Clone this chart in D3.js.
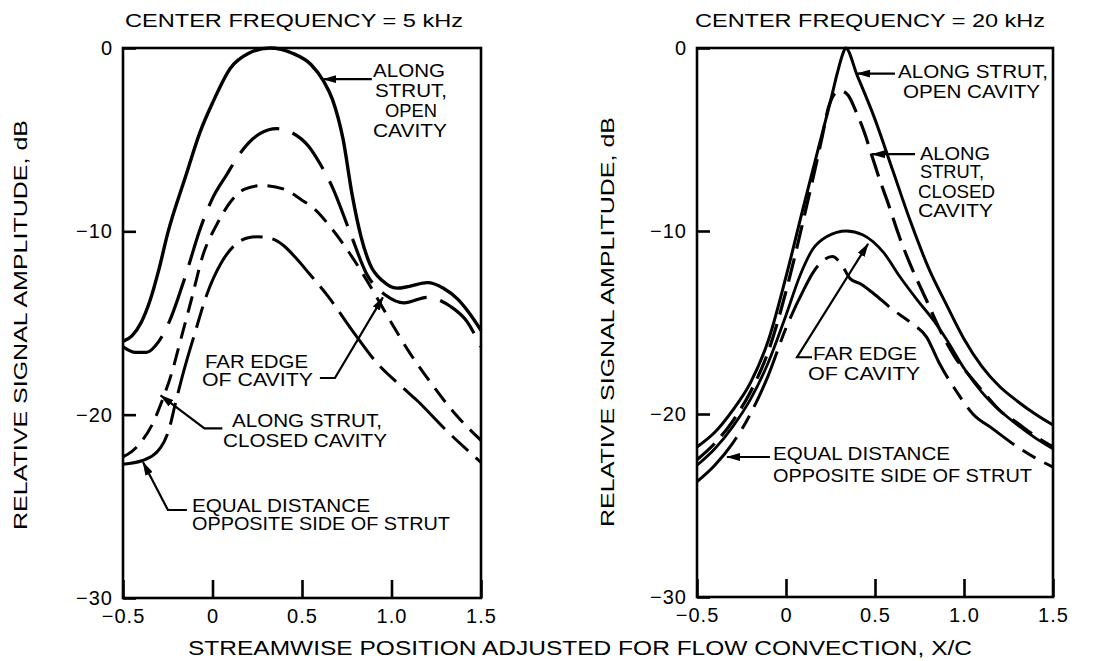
<!DOCTYPE html>
<html><head><meta charset="utf-8">
<script src="https://cdn.jsdelivr.net/npm/d3@7"></script>
<style>
html,body{margin:0;padding:0;background:#fff;}
svg{display:block;font-family:"Liberation Sans",Arial,Helvetica,sans-serif;}
</style></head><body>
<svg id="chart" width="1109" height="661"></svg>
<script>
// ---------- data ----------
const xTickValues = [-0.5, 0, 0.5, 1.0, 1.5];
const xTickLabels = ["\u22120.5", "0", "0.5", "1.0", "1.5"];
const yTickValues = [0, -10, -20, -30];
const yTickLabels = ["0", "\u221210", "\u221220", "\u221230"];
const panelTitles = ["CENTER FREQUENCY = 5 kHz", "CENTER FREQUENCY = 20 kHz"];
const yTitle = "RELATIVE SIGNAL AMPLITUDE, dB";
const xTitle = "STREAMWISE POSITION ADJUSTED FOR FLOW CONVECTION, X/C";

// 5 kHz panel: [X/C, dB]
const f5OpenCavity = [[-0.5,-16.0],[-0.45,-15.7],[-0.4,-15.0],[-0.35,-13.8],[-0.3,-12.1],[-0.25,-10.1],[-0.15,-7.0],[-0.07,-4.6],[0,-3.0],[0.1,-1.1],[0.2,-0.3],[0.32,0],[0.45,-0.3],[0.55,-0.9],[0.62,-1.8],[0.67,-2.8],[0.73,-5.0],[0.78,-8.0],[0.83,-10.3],[0.88,-11.8],[0.95,-12.7],[1.03,-13.1],[1.1,-13.0],[1.2,-12.8],[1.29,-13.1],[1.37,-13.7],[1.43,-14.4],[1.5,-15.4]];
const f5FarEdge = [[-0.5,-16.3],[-0.43,-16.6],[-0.37,-16.6],[-0.3,-16.0],[-0.24,-14.9],[-0.15,-12.4],[-0.07,-9.9],[0,-8.2],[0.08,-6.9],[0.15,-5.8],[0.26,-4.7],[0.36,-4.4],[0.44,-4.6],[0.54,-5.4],[0.6,-6.3],[0.67,-7.6],[0.77,-10.1],[0.86,-12.3],[0.97,-13.5],[1.07,-13.9],[1.2,-13.6],[1.33,-14.1],[1.42,-14.9],[1.5,-16.3]];
const f5ClosedCavity = [[-0.5,-22.3],[-0.45,-22.0],[-0.4,-21.5],[-0.34,-20.6],[-0.28,-19.2],[-0.23,-17.8],[-0.18,-16.0],[-0.12,-13.8],[-0.05,-11.2],[0.02,-9.7],[0.1,-8.4],[0.18,-7.7],[0.28,-7.5],[0.4,-7.7],[0.5,-8.3],[0.56,-8.7],[0.67,-9.9],[0.8,-11.7],[0.9,-13.3],[1.0,-15.0],[1.1,-16.6],[1.23,-18.4],[1.35,-19.9],[1.5,-21.4]];
const f5EqualDistance = [[-0.5,-22.7],[-0.39,-22.5],[-0.29,-21.8],[-0.24,-20.7],[-0.21,-19.5],[-0.16,-17.6],[-0.1,-15.6],[-0.03,-13.4],[0.05,-11.7],[0.13,-10.7],[0.2,-10.35],[0.25,-10.3],[0.33,-10.4],[0.4,-10.8],[0.47,-11.5],[0.54,-12.3],[0.65,-13.6],[0.78,-15.4],[0.92,-17.2],[1.06,-18.5],[1.14,-19.2],[1.3,-20.8],[1.5,-22.6]];

// 20 kHz panel: [X/C, dB]
const f20OpenCavity = [[-0.5,-21.8],[-0.4,-21.0],[-0.3,-19.8],[-0.2,-18.3],[-0.1,-16.0],[0,-12.5],[0.1,-8.6],[0.2,-4.8],[0.25,-2.9],[0.29,-1.3],[0.32,-0.3],[0.335,0],[0.4,-1.5],[0.5,-3.9],[0.6,-6.7],[0.7,-9.5],[0.8,-12.0],[0.9,-14.0],[1.0,-15.9],[1.1,-17.4],[1.2,-18.5],[1.3,-19.3],[1.4,-20.0],[1.5,-20.6]];
const f20ClosedCavity = [[-0.5,-22.5],[-0.4,-21.6],[-0.3,-20.4],[-0.2,-18.8],[-0.1,-16.6],[0,-13.3],[0.1,-9.3],[0.2,-5.0],[0.24,-3.2],[0.28,-2.45],[0.31,-2.35],[0.35,-2.6],[0.39,-3.4],[0.44,-4.6],[0.483,-5.9],[0.53,-7.3],[0.567,-8.3],[0.64,-10.4],[0.71,-12.1],[0.79,-13.8],[0.88,-15.7],[0.95,-16.9],[1.03,-17.9],[1.1,-18.7],[1.2,-19.8],[1.3,-20.5],[1.4,-21.2],[1.5,-21.8]];
const f20FarEdge = [[-0.5,-22.8],[-0.4,-21.9],[-0.3,-20.7],[-0.2,-19.2],[-0.1,-17.2],[0,-14.6],[0.08,-12.4],[0.15,-11.0],[0.23,-10.3],[0.34,-10.0],[0.43,-10.2],[0.55,-11.2],[0.64,-12.5],[0.74,-13.8],[0.83,-14.9],[0.9,-15.9],[1.0,-17.5],[1.1,-18.8],[1.2,-19.8],[1.3,-20.6],[1.4,-21.3],[1.5,-21.9]];
const f20EqualDistance = [[-0.5,-23.7],[-0.4,-22.8],[-0.3,-21.6],[-0.2,-20.0],[-0.1,-17.9],[0,-15.3],[0.1,-13.2],[0.15,-12.3],[0.21,-11.6],[0.26,-11.4],[0.31,-11.8],[0.36,-12.6],[0.42,-12.9],[0.49,-13.4],[0.6,-14.3],[0.7,-15.0],[0.79,-15.8],[0.86,-17.2],[0.96,-18.8],[1.05,-20.0],[1.16,-20.8],[1.3,-21.8],[1.4,-22.4],[1.5,-22.9]];

// annotation leader lines, in data units [X/C, dB]
const f5Leaders = [
  [[0.89,-1.7],[0.62,-1.7]],
  [[0.60,-18.0],[0.684,-18.0],[0.952,-13.6]],
  [[0.055,-20.75],[-0.045,-20.75],[-0.29,-18.95]],
  [[-0.143,-25.2],[-0.249,-25.2],[-0.388,-22.6]]
];
const f20Leaders = [
  [[0.612,-1.4],[0.40,-1.4]],
  [[0.725,-5.8],[0.483,-5.8]],
  [[0.146,-16.9],[0.062,-16.9],[0.461,-10.7]],
  [[-0.09,-22.35],[-0.331,-22.35]]
];

// annotation texts: [text, x start, baseline, width]
const f5Notes = [
  ["ALONG",373,77,72],["STRUT,",375,97,72],["OPEN",385,117,52],["CAVITY",373,137,74],
  ["FAR EDGE",205,368,103],["OF CAVITY",202,386,111],
  ["ALONG STRUT,",232,427,150],["CLOSED CAVITY",223,447,164],
  ["EQUAL DISTANCE",192,512,178],["OPPOSITE SIDE OF STRUT",192,530,258]
];
const f20Notes = [
  ["ALONG STRUT,",898,78,150],["OPEN CAVITY",903,98,137],
  ["ALONG",920,160,70],["STRUT,",920,178,64],["CLOSED",918,198,77],["CAVITY",918,217,75],
  ["FAR EDGE",813,360,104],["OF CAVITY",808,380,112],
  ["EQUAL DISTANCE",773,460,177],["OPPOSITE SIDE OF STRUT",773,482,259]
];

// ---------- layout ----------
const panels = [
  {left:123, right:481, top:48, bottom:598, titleX:294, titleW:338, yTitleX:20, yTitleY:325,
   series:[
     {data:f5OpenCavity, width:3.4, dash:null},
     {data:f5FarEdge, width:3.2, dash:"48,14"},
     {data:f5ClosedCavity, width:3.0, dash:"17,10"},
     {data:f5EqualDistance, width:3.0, dash:"58,10,22,10"}
   ], leaders:f5Leaders, notes:f5Notes},
  {left:697, right:1053, top:48, bottom:597, titleX:870, titleW:350, yTitleX:607, yTitleY:322,
   series:[
     {data:f20OpenCavity, width:3.0, dash:null},
     {data:f20ClosedCavity, width:3.2, dash:"24,10"},
     {data:f20FarEdge, width:2.8, dash:null},
     {data:f20EqualDistance, width:3.0, dash:"60,10,15,10"}
   ], leaders:f20Leaders, notes:f20Notes}
];

const svg = d3.select("#chart");
svg.append("rect").attr("width",1109).attr("height",661).attr("fill","#fff");
const defs = svg.append("defs");
defs.append("marker").attr("id","ah").attr("viewBox","0 0 14 8")
  .attr("refX",13).attr("refY",4).attr("markerWidth",14).attr("markerHeight",8)
  .attr("markerUnits","userSpaceOnUse").attr("orient","auto")
  .append("path").attr("d","M0,0L14,4L0,8Z").attr("fill","#000");

panels.forEach((p, pi) => {
  const x = d3.scaleLinear().domain([-0.5, 1.5]).range([p.left, p.right]);
  const y = d3.scaleLinear().domain([-30, 0]).range([p.bottom, p.top]);
  const g = svg.append("g");

  // curves
  const line = d3.line().x(d => x(d[0])).y(d => y(d[1])).curve(d3.curveMonotoneX);
  p.series.forEach(s => {
    g.append("path").datum(s.data).attr("d", line)
      .attr("fill","none").attr("stroke","#000")
      .attr("stroke-width", s.width)
      .attr("stroke-dasharray", s.dash)
      .attr("stroke-linejoin","round");
  });

  // frame
  g.append("rect").attr("x",p.left).attr("y",p.top)
    .attr("width",p.right-p.left).attr("height",p.bottom-p.top)
    .attr("fill","none").attr("stroke","#000").attr("stroke-width",2.6);

  // axes
  const ya = g.append("g").attr("transform",`translate(${p.left},0)`)
    .call(d3.axisLeft(y).tickValues(yTickValues).tickFormat((d,i)=>yTickLabels[i]).tickSize(-13).tickPadding(10));
  const xa = g.append("g").attr("transform",`translate(0,${p.bottom})`)
    .call(d3.axisBottom(x).tickValues(xTickValues).tickFormat((d,i)=>xTickLabels[i]).tickSize(-18).tickPadding(11));
  [ya, xa].forEach(a => {
    a.select(".domain").remove();
    a.selectAll(".tick line").attr("stroke","#000").attr("stroke-width",2.6);
    a.selectAll(".tick text").attr("fill","#000").style("font-size","20px")
      .style("letter-spacing","1px")
      .style("font-family",'"Liberation Sans",Arial,sans-serif');
  });

  // titles
  g.append("text").attr("x",p.titleX).attr("y",27).attr("text-anchor","middle")
    .attr("textLength",p.titleW).attr("lengthAdjust","spacingAndGlyphs")
    .style("font-size","19px").text(panelTitles[pi]);
  g.append("text").attr("transform",`translate(${p.yTitleX},${p.yTitleY}) rotate(-90)`)
    .attr("text-anchor","middle").attr("dy","0.35em")
    .attr("textLength",410).attr("lengthAdjust","spacingAndGlyphs")
    .style("font-size","19px").text(yTitle);

  // leaders
  const lline = d3.line().x(d => x(d[0])).y(d => y(d[1]));
  p.leaders.forEach(l => {
    g.append("path").datum(l).attr("d", lline).attr("fill","none")
      .attr("stroke","#000").attr("stroke-width",2.2).attr("marker-end","url(#ah)");
  });

  // notes
  p.notes.forEach(n => {
    g.append("text").attr("x",n[1]).attr("y",n[2])
      .attr("textLength",n[3]).attr("lengthAdjust","spacingAndGlyphs")
      .style("font-size","18px").text(n[0]);
  });
});

svg.append("text").attr("x",580).attr("y",655).attr("text-anchor","middle")
  .attr("textLength",784).attr("lengthAdjust","spacingAndGlyphs")
  .style("font-size","20px").text(xTitle);
</script>
</body></html>
